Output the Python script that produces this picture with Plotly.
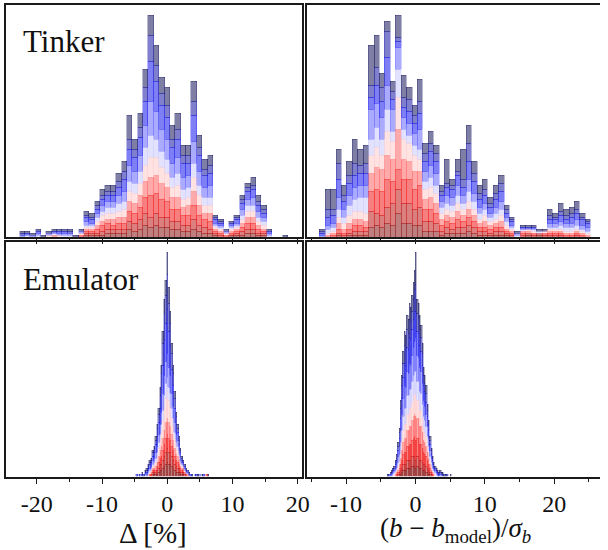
import numpy as np
import plotly.graph_objects as go

# ---------------- data (counts per bin, 10 stacked series, bottom -> top) -------------
NBINS = 50
tinker_delta_range = [-22.66, 18.51]
tinker_b_range = [-13.76, 25.29]
emu_delta_range = [-4.80, 6.43]
emu_b_range = [-4.00, 5.20]

tinker_delta = [
    [0,0,0,0,0,0,0,0,0,0,0,0, 1,1,1,1,2,2,2,2,4,3,4,6,5,6,5,5,4,4,3,3,4,3,2,2,1,0,0,1,1,1,2,2,1,1,0,0,0,0],
    [0,0,0,0,0,0,0,0,0,0,0,0, 1,1,1,2,2,2,2,2,4,4,5,6,5,6,5,5,4,4,3,3,5,3,3,2,1,1,0,0,1,2,2,2,1,1,0,0,0,0],
    [0,0,0,0,0,0,0,0,0,0,0,1, 1,1,2,3,3,2,3,3,5,5,6,8,11,10,9,8,6,6,5,5,7,5,4,4,1,1,1,1,1,2,3,3,2,1,0,0,0,0],
    [0,0,0,0,0,0,1,0,0,0,0,0, 1,1,2,2,2,3,3,3,5,5,6,8,9,9,8,7,6,6,4,5,7,5,3,4,1,1,0,1,1,2,3,3,2,1,0,0,0,0],
    [0,0,0,0,0,1,0,1,0,0,0,1, 1,1,2,3,3,3,3,4,5,5,6,8,10,9,8,7,5,6,4,4,7,5,4,4,1,1,1,1,1,2,3,3,2,2,0,0,0,0],
    [0,1,0,1,0,0,1,0,1,1,0,0, 1,1,2,2,3,3,4,4,5,5,6,9,11,9,8,7,5,6,5,5,7,5,4,4,1,1,0,1,1,2,3,3,2,2,1,0,0,0],
    [1,0,1,1,0,1,0,1,1,1,0,1, 2,1,2,3,3,3,4,5,8,6,8,11,17,14,11,10,7,8,6,6,11,7,5,6,1,1,1,1,1,3,3,4,3,2,1,0,0,0],
    [0,1,0,1,0,0,1,1,1,0,0,0, 2,2,2,3,3,3,4,6,8,7,9,12,20,15,12,11,8,9,7,6,13,8,6,6,2,1,0,1,2,3,4,4,3,2,1,0,0,0],
    [1,0,0,0,0,0,0,0,0,1,0,0, 1,1,2,2,2,2,3,4,5,4,5,7,13,8,6,6,4,5,4,4,7,4,3,4,1,1,0,0,1,2,2,2,2,2,0,0,0,0],
    [1,1,1,1,1,1,1,1,1,1,1,1, 2,2,2,3,3,3,4,5,12,5,7,9,10,10,8,9,7,8,5,5,10,6,5,5,1,1,1,1,1,2,2,4,3,2,1,0,0,1],
]

tinker_b = [
    [0,0,0,1,0,1,1,1,1,5,6,5,7,6,12,7,7,6,6,3,3,3,1,2,2,2,2,3,2,1,1,1,1,1,1,0,0,0,1,0,1,0,0,0,0,0,0,0,0,0],
    [0,0,0,1,1,1,2,2,2,8,6,6,8,11,12,10,10,8,9,5,5,4,2,3,2,3,3,3,3,2,2,1,2,2,1,1,0,1,1,1,1,1,1,1,1,0,0,1,0,0],
    [0,0,1,2,1,2,3,3,2,10,12,12,14,11,10,12,12,10,11,6,6,5,3,3,3,4,3,4,3,2,2,2,2,2,1,1,0,1,0,1,0,1,1,1,1,1,1,1,1,0],
    [0,1,1,3,2,3,3,3,3,9,11,11,12,11,20,10,9,9,7,5,6,5,3,3,3,4,3,4,3,2,3,2,2,3,1,1,0,1,1,0,0,0,1,1,1,1,1,1,1,1],
    [0,1,1,3,3,4,4,4,4,9,10,7,12,9,16,10,9,8,6,5,5,5,3,3,3,4,3,4,3,2,3,2,2,3,2,1,0,0,1,1,0,1,1,1,1,1,1,1,1,1],
    [0,2,2,4,3,5,6,7,8,8,10,8,11,5,14,5,4,5,5,4,5,4,3,3,3,4,3,5,4,3,3,2,3,3,2,1,1,1,0,1,1,0,1,1,2,2,2,2,1,1],
    [1,2,2,6,4,5,6,6,6,15,12,11,12,11,11,6,6,6,10,5,6,6,3,4,4,5,4,6,4,3,3,2,3,4,2,1,1,0,0,0,0,0,2,2,2,2,2,3,2,2],
    [1,4,4,9,4,6,6,6,6,6,9,8,14,5,3,5,6,5,8,5,7,6,3,4,4,5,4,9,6,4,4,3,4,5,2,2,0,1,1,1,0,0,2,2,3,2,3,3,3,2],
    [1,4,3,8,3,4,6,4,5,6,9,7,13,4,2,5,6,4,6,4,4,4,2,2,2,2,4,9,4,3,3,2,3,4,2,1,0,0,0,0,0,0,2,1,2,2,2,2,1,1],
    [1,10,10,7,5,7,12,8,9,20,16,7,5,5,11,11,6,5,11,5,6,4,3,12,3,6,15,9,6,4,5,3,4,4,2,1,1,1,1,1,1,1,3,2,4,3,3,4,2,1],
]

emu_delta = [
    [0,0,0,0,0,0,0,0,0,0,0,1,1,1,1,2,3,3,4,5,6,7,6,6,5,4,3,2,2,2,1,1,1,0,0,0,0,0,0,0,0,0,0,0,0,0,0,0,0,0],
    [0,0,0,0,0,0,0,0,0,0,0,1,1,1,2,2,3,3,4,5,6,7,6,6,5,4,3,3,2,2,1,1,1,1,0,0,0,0,0,0,0,0,0,0,0,0,0,0,0,0],
    [0,0,0,0,0,0,0,0,0,1,1,1,1,1,2,3,3,4,5,6,7,7,7,6,5,5,4,3,3,2,2,1,1,1,1,0,0,0,0,0,0,0,0,0,0,0,0,0,1,0],
    [0,0,0,0,0,0,0,0,0,0,1,1,1,2,2,3,4,5,6,7,8,8,8,7,6,5,4,3,3,2,1,1,1,0,0,1,0,0,0,0,0,0,0,0,0,0,0,0,0,0],
    [0,0,0,0,0,0,0,0,1,1,1,1,2,2,3,4,5,7,9,11,12,13,11,10,8,7,5,4,3,2,2,1,1,1,0,0,0,0,0,0,0,0,0,0,0,0,0,0,0,0],
    [0,0,0,0,0,0,1,0,1,1,1,1,1,2,2,3,3,4,5,6,7,7,6,6,5,4,3,2,2,1,1,1,0,0,1,0,0,0,0,0,0,0,0,0,0,0,0,0,0,0],
    [0,0,0,1,0,0,0,1,1,1,1,2,2,3,3,4,5,6,8,10,11,12,10,9,7,6,5,4,3,2,2,1,1,1,0,1,1,0,0,0,0,0,0,1,0,0,0,0,0,0],
    [1,0,0,0,1,0,1,1,1,2,2,2,3,4,5,6,8,11,14,18,19,22,18,15,12,10,7,5,4,3,2,1,1,1,1,0,0,1,0,0,1,0,0,0,0,0,1,0,0,0],
    [0,0,1,0,0,1,0,1,1,1,1,2,2,2,4,4,6,8,11,13,14,17,14,11,8,6,5,4,2,2,1,1,0,0,0,1,0,0,0,0,0,1,0,0,0,0,0,0,0,0],
    [0,0,0,0,1,0,1,1,1,1,1,1,1,2,2,3,4,4,6,7,7,11,8,6,5,4,3,2,2,2,1,1,1,1,1,0,1,0,1,0,0,0,1,0,0,1,0,0,0,1],
]

emu_b = [
    [0,0,0,0,0,0,0,0,0,1,1,2,3,3,3,4,4,4,4,5,5,5,4,5,5,4,4,3,3,3,2,2,1,1,0,0,0,0,0,0,0,0,0,0,0,0,0,0,0,0],
    [0,0,0,0,0,0,0,0,1,1,2,2,3,3,3,4,4,4,4,5,5,5,4,5,5,4,4,4,3,3,3,2,2,1,1,0,0,0,0,0,0,0,0,0,0,0,0,0,0,0],
    [0,0,0,0,0,0,0,1,1,2,3,4,5,6,6,7,7,8,8,8,9,10,10,9,9,8,8,7,6,5,5,4,3,2,1,1,0,0,0,0,0,0,0,0,0,0,0,0,0,0],
    [0,0,0,0,0,0,1,1,1,2,3,5,6,7,7,8,8,9,9,10,11,11,12,10,10,9,9,8,6,6,5,4,3,2,1,1,1,0,0,0,0,0,0,0,0,0,0,0,0,0],
    [0,0,0,0,0,1,1,1,2,2,4,5,6,7,7,8,8,9,9,9,10,10,10,9,9,8,8,7,6,5,5,4,3,2,2,1,1,1,0,0,0,0,0,0,0,0,0,0,0,0],
    [0,0,0,0,1,1,1,1,2,3,4,5,7,8,8,9,9,9,9,10,10,11,12,9,9,9,8,7,6,6,5,4,3,2,2,1,1,1,1,0,0,0,0,0,0,0,0,0,0,0],
    [0,0,1,1,1,1,1,2,3,4,6,8,9,11,10,12,11,13,12,13,14,15,17,13,12,12,11,10,8,7,6,5,4,3,2,2,1,1,1,1,0,1,1,0,0,0,0,1,0,0],
    [0,1,0,1,1,1,2,2,3,4,6,8,10,11,11,12,12,13,13,13,14,15,13,12,12,11,10,9,7,7,6,5,4,3,2,2,1,1,1,1,1,1,0,1,0,1,0,0,0,0],
    [0,0,0,0,0,0,1,1,2,3,5,6,7,9,8,9,8,9,9,9,10,11,13,9,8,8,7,6,5,4,4,3,3,2,2,1,1,0,0,0,0,0,0,0,0,0,0,0,0,0],
    [1,0,1,1,1,1,1,2,2,2,4,5,6,7,7,7,7,8,7,8,8,9,16,7,7,7,6,5,4,4,4,3,2,2,1,1,1,1,1,1,1,1,1,1,1,0,1,0,0,1],
]

panel_labels = ["Tinker", "Emulator"]
xtick_left = [-20, -10, 0, 10, 20]
xtick_right = [-10, 0, 10, 20]
xtitle_left = "Δ [%]"
xtitle_right = "(<i>b</i> − <i>b</i><sub>model</sub>)/<i>σ</i><sub><i>b</i></sub>"

# ---------------- styling ----------------
# seismic colormap sampled at 10 points, reversed (bottom = dark red, top = navy)
series_rgb = [(128, 0, 0), (184, 0, 0), (241, 0, 0), (255, 85, 85), (255, 198, 198),
              (198, 198, 255), (85, 85, 255), (0, 0, 235), (0, 0, 156), (0, 0, 77)]
FONT = "Liberation Serif, Times New Roman, serif"
W, H = 608, 550
LINEC = "#1a1a1a"

fig = go.Figure()

panels = [
    (tinker_delta, tinker_delta_range, "x", "y"),
    (tinker_b, tinker_b_range, "x2", "y2"),
    (emu_delta, emu_delta_range, "x3", "y3"),
    (emu_b, emu_b_range, "x4", "y4"),
]

ymax = {}
for counts, rng, xa, ya in panels:
    edges = np.linspace(rng[0], rng[1], NBINS + 1)
    centers = 0.5 * (edges[:-1] + edges[1:])
    width = edges[1] - edges[0]
    totals = np.sum(np.array(counts), axis=0)
    ymax[ya] = totals.max() * 1.05
    for s, vals in enumerate(counts):
        r, g, b = series_rgb[s]
        fig.add_trace(go.Bar(
            x=centers, y=[v if v else None for v in vals], width=width,
            xaxis=xa, yaxis=ya,
            marker=dict(color=f"rgba({r},{g},{b},0.5)",
                        line=dict(color=f"rgba({r},{g},{b},0.45)", width=0.6)),
            showlegend=False, hoverinfo="skip"))

top_dom = [1 - 237.3 / H, 1 - 4.5 / H]
bot_dom = [1 - 476.7 / H, 1 - 241.5 / H]
left_dom = [6 / W, 306 / W]
right_dom = [310.7 / W, 1.0]
left_range = [-24.73, 20.64]
right_range = [-15.69, 26.6]

def xax(dom, rng, ticks, labels, anchor):
    return dict(domain=dom, range=rng, anchor=anchor, showgrid=False, zeroline=False,
                showline=True, mirror=True, linecolor=LINEC, linewidth=1.6,
                ticks="outside", ticklen=5, tickwidth=1.3, tickcolor=LINEC,
                tickvals=ticks, ticktext=[str(t) for t in ticks],
                showticklabels=labels,
                tickfont=dict(family=FONT, size=24, color="#111"),
                minor=dict(ticks="outside", ticklen=3, tickwidth=1.1, tickcolor=LINEC,
                           dtick=5, tick0=0, showgrid=False))

def yax(dom, ya, anchor, mirror):
    return dict(domain=dom, range=[0, ymax[ya]], anchor=anchor, showgrid=False,
                zeroline=False, showline=True, mirror=mirror, linecolor=LINEC,
                linewidth=1.6, ticks="", showticklabels=False)

fig.update_layout(
    width=W, height=H, autosize=False, margin=dict(l=0, r=0, t=0, b=0),
    paper_bgcolor="white", plot_bgcolor="white",
    barmode="stack", bargap=0,
    xaxis=xax(left_dom, left_range, xtick_left, False, "y"),
    xaxis2=xax(right_dom, right_range, xtick_right, False, "y2"),
    xaxis3=xax(left_dom, left_range, xtick_left, True, "y3"),
    xaxis4=xax(right_dom, right_range, xtick_right, True, "y4"),
    yaxis=yax(top_dom, "y", "x", True),
    yaxis2=yax(top_dom, "y2", "x2", False),
    yaxis3=yax(bot_dom, "y3", "x3", True),
    yaxis4=yax(bot_dom, "y4", "x4", False),
    font=dict(family=FONT, color="#111"),
)

ann = [
    dict(text=panel_labels[0], x=21 / W, y=1 - 41 / H, xanchor="left", yanchor="middle",
         font=dict(size=31)),
    dict(text=panel_labels[1], x=21 / W, y=1 - 279 / H, xanchor="left", yanchor="middle",
         font=dict(size=31)),
    dict(text=xtitle_left, x=155 / W, y=1 - 533 / H, xanchor="center", yanchor="middle",
         font=dict(size=29)),
    dict(text=xtitle_right, x=462 / W, y=1 - 549 / H, xanchor="center", yanchor="bottom",
         font=dict(size=27)),
]
for a in ann:
    a.update(xref="paper", yref="paper", showarrow=False)
    a["font"]["family"] = FONT
    a["font"]["color"] = "#111"
fig.update_layout(annotations=ann)

fig.write_html("out.html", config={"displayModeBar": False, "responsive": False},
               post_script=("document.documentElement.style.margin='0';"
                            "document.documentElement.style.padding='0';"
                            "document.documentElement.style.overflow='hidden';"
                            "document.body.style.margin='0';"
                            "document.body.style.padding='0';"
                            "document.body.style.overflow='hidden';"
                            "Plotly.relayout(document.getElementById('{plot_id}'),"
                            "{width: 608, height: 550});"))
